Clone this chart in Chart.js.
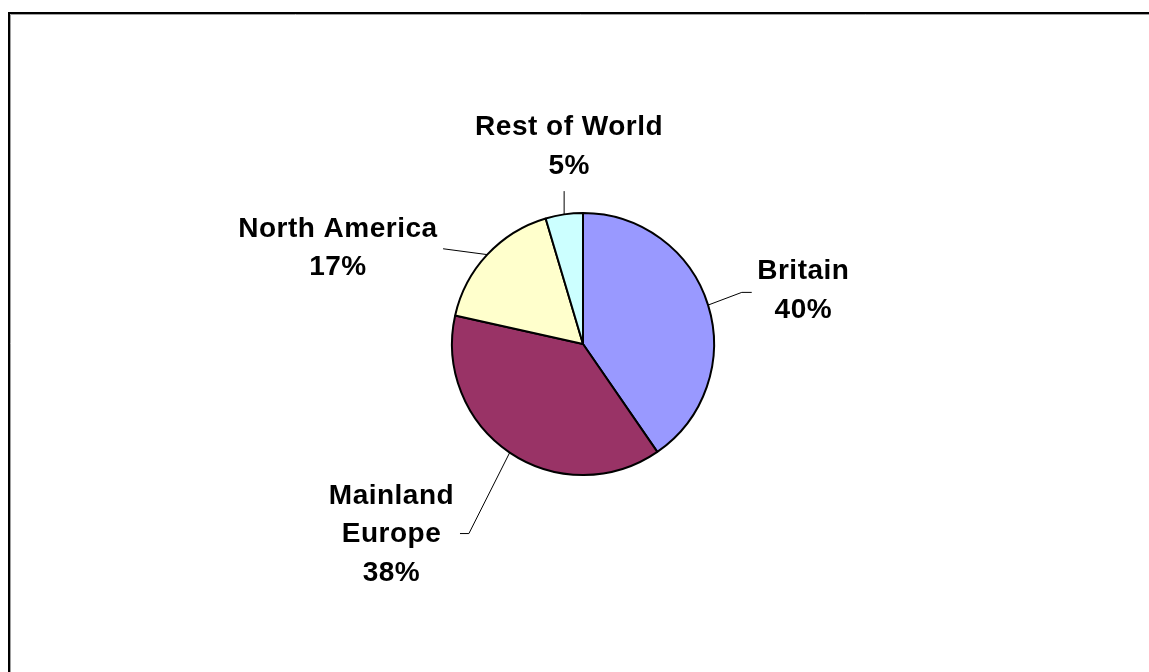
<!DOCTYPE html>
<html>
<head>
<meta charset="utf-8">
<script src="https://cdn.jsdelivr.net/npm/chart.js@4/dist/chart.umd.min.js"></script>
<style>
  html, body { margin: 0; padding: 0; background: #ffffff; }
  #wrap { position: relative; width: 1149px; height: 672px; }
</style>
</head>
<body>
<div id="wrap"><canvas id="chart" width="1149" height="672"></canvas></div>
<script>
// Market share by region
const categories = ['Britain', ['Mainland', 'Europe'], 'North America', 'Rest of World'];
const shares = [40.4, 38.1, 16.9, 4.6];
const sliceColors = ['#9999FF', '#993366', '#FFFFCC', '#CCFFFF'];

// Label placement, in units of the pie radius relative to its centre:
// text = centre of the first text line, leader = bend points after the slice edge.
const labelLayout = [
  { text: [1.682, -0.553], leader: [[1.212, -0.394], [1.288, -0.394]] },
  { text: [-1.462, 1.159], leader: [[-0.871, 1.447], [-0.939, 1.447]] },
  { text: [-1.871, -0.879], leader: [[-1.068, -0.727]] },
  { text: [-0.106, -1.652], leader: [[-0.144, -1.167]] }
];

const frame = {
  id: 'frame',
  beforeDraw(chart) {
    const ctx = chart.ctx;
    ctx.save();
    ctx.fillStyle = '#ffffff';
    ctx.fillRect(0, 0, chart.width, chart.height);
    ctx.strokeStyle = '#000000';
    ctx.lineWidth = 2;
    ctx.beginPath();
    ctx.moveTo(chart.width + 5, 13);
    ctx.lineTo(9, 13);
    ctx.lineTo(9, chart.height + 5);
    ctx.stroke();
    ctx.strokeStyle = '#a0a0a0';
    ctx.lineWidth = 1;
    ctx.beginPath();
    ctx.moveTo(chart.width + 5, 14.5);
    ctx.lineTo(10.5, 14.5);
    ctx.lineTo(10.5, chart.height + 5);
    ctx.stroke();
    ctx.restore();
  }
};

const outsideLabels = {
  id: 'outsideLabels',
  afterDatasetsDraw(chart) {
    const ctx = chart.ctx;
    const meta = chart.getDatasetMeta(0);
    const data = chart.data.datasets[0].data;
    const total = data.reduce((a, b) => a + b, 0);
    ctx.save();
    meta.data.forEach((arc, i) => {
      const { x, y, startAngle, endAngle, outerRadius } = arc.getProps(['x', 'y', 'startAngle', 'endAngle', 'outerRadius'], true);
      const r = outerRadius;
      const mid = (startAngle + endAngle) / 2;
      const lay = labelLayout[i];

      // leader line from the slice edge
      ctx.strokeStyle = '#000000';
      ctx.lineWidth = 1;
      ctx.beginPath();
      ctx.moveTo(x + Math.cos(mid) * r, y + Math.sin(mid) * r);
      lay.leader.forEach(p => ctx.lineTo(x + p[0] * r, y + p[1] * r));
      ctx.stroke();

      // label text: category lines, then the percentage
      const name = chart.data.labels[i];
      const lines = (Array.isArray(name) ? name.slice() : [name]);
      lines.push(Math.round(data[i] / total * 100) + '%');
      ctx.fillStyle = '#000000';
      ctx.font = 'bold 28px "Liberation Sans", Arial, sans-serif';
      ctx.letterSpacing = '0.5px';
      ctx.textAlign = 'center';
      ctx.textBaseline = 'middle';
      const tx = x + lay.text[0] * r;
      const ty = y + lay.text[1] * r;
      lines.forEach((t, k) => ctx.fillText(t, tx, ty + k * 38.5));
    });
    ctx.restore();
  }
};

new Chart(document.getElementById('chart'), {
  type: 'pie',
  data: {
    labels: categories,
    datasets: [{
      data: shares,
      backgroundColor: sliceColors,
      borderColor: '#000000',
      borderWidth: 2,
      hoverOffset: 0
    }]
  },
  options: {
    responsive: false,
    animation: false,
    radius: 131,
    layout: { padding: { left: 17, right: 0, top: 16, bottom: 0 } },
    plugins: {
      legend: { display: false },
      title: { display: false },
      tooltip: { enabled: false }
    }
  },
  plugins: [frame, outsideLabels]
});
</script>
</body>
</html>
